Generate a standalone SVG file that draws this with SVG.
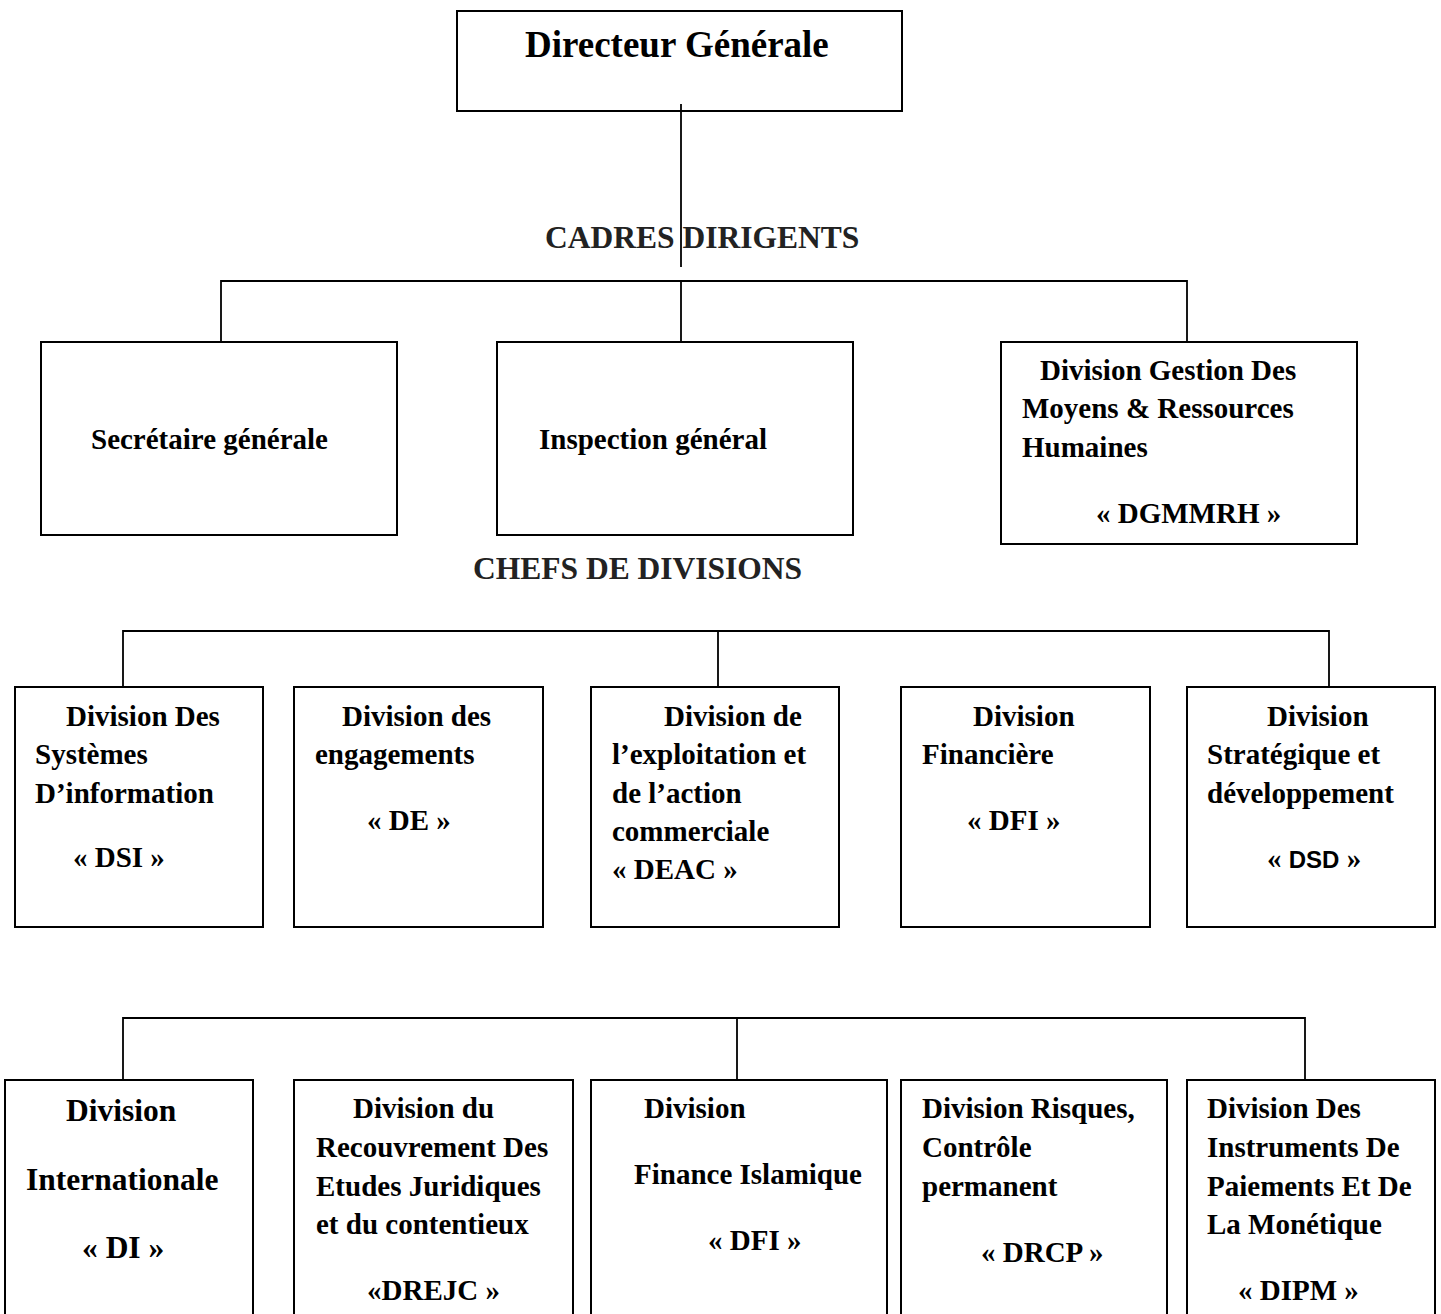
<svg xmlns="http://www.w3.org/2000/svg" width="1441" height="1314" viewBox="0 0 1441 1314">
<style>
.box{fill:#fff;stroke:#000;stroke-width:2}
.ln{fill:none;stroke:#000;stroke-width:1.8}
text{font-family:"Liberation Serif","Times New Roman",serif;font-weight:bold;fill:#000}
.t{font-size:29px}
.big{font-size:31.5px}
.hd{font-size:31.5px;fill:#222}
.ttl{font-size:37px}
.sans{font-family:"Liberation Sans",Arial,sans-serif;font-size:24px}
</style>
<rect width="1441" height="1314" fill="#fff"/>
<g id="dg">
<rect class="box" x="457" y="11" width="445" height="100"/>
<text class="ttl" x="525" y="57">Directeur Générale</text>
</g>
<g id="label-cadres"><text class="hd" x="545" y="248">CADRES DIRIGENTS</text></g>
<g id="label-chefs"><text class="hd" x="473" y="579">CHEFS DE DIVISIONS</text></g>
<g id="sg">
<rect class="box" x="41" y="342" width="356" height="193"/>
<text class="t" x="91" y="449">Secrétaire générale</text>
</g>
<g id="ig">
<rect class="box" x="497" y="342" width="356" height="193"/>
<text class="t" x="539" y="449">Inspection général</text>
</g>
<g id="dgmmrh">
<rect class="box" x="1001" y="342" width="356" height="202"/>
<text class="t" x="1040" y="380">Division Gestion Des</text>
<text class="t" x="1022" y="418">Moyens &amp; Ressources</text>
<text class="t" x="1022" y="457">Humaines</text>
<text class="t" x="1096" y="523">« DGMMRH »</text>
</g>
<g id="dsi">
<rect class="box" x="15" y="687" width="248" height="240"/>
<text class="t" x="66" y="726">Division Des</text>
<text class="t" x="35" y="764">Systèmes</text>
<text class="t" x="35" y="803">D’information</text>
<text class="t" x="73" y="867">« DSI »</text>
</g>
<g id="de">
<rect class="box" x="294" y="687" width="249" height="240"/>
<text class="t" x="342" y="726">Division des</text>
<text class="t" x="315" y="764">engagements</text>
<text class="t" x="367" y="830">« DE »</text>
</g>
<g id="deac">
<rect class="box" x="591" y="687" width="248" height="240"/>
<text class="t" x="664" y="726">Division de</text>
<text class="t" x="612" y="764">l’exploitation et</text>
<text class="t" x="612" y="803">de l’action</text>
<text class="t" x="612" y="841">commerciale</text>
<text class="t" x="612" y="879">« DEAC »</text>
</g>
<g id="dfi">
<rect class="box" x="901" y="687" width="249" height="240"/>
<text class="t" x="973" y="726">Division</text>
<text class="t" x="922" y="764">Financière</text>
<text class="t" x="967" y="830">« DFI »</text>
</g>
<g id="dsd">
<rect class="box" x="1187" y="687" width="248" height="240"/>
<text class="t" x="1267" y="726">Division</text>
<text class="t" x="1207" y="764">Stratégique et</text>
<text class="t" x="1207" y="803">développement</text>
<text class="t" x="1267" y="868">« <tspan class="sans">DSD</tspan> »</text>
</g>
<g id="di">
<rect class="box" x="5" y="1080" width="248" height="250"/>
<text class="big" x="66" y="1121">Division</text>
<text class="big" x="26" y="1190">Internationale</text>
<text class="big" x="82" y="1258">« DI »</text>
</g>
<g id="drejc">
<rect class="box" x="294" y="1080" width="279" height="250"/>
<text class="t" x="353" y="1118">Division du</text>
<text class="t" x="316" y="1157">Recouvrement Des</text>
<text class="t" x="316" y="1196">Etudes Juridiques</text>
<text class="t" x="316" y="1234">et du contentieux</text>
<text class="t" x="367" y="1300">«DREJC »</text>
</g>
<g id="dfi2">
<rect class="box" x="591" y="1080" width="296" height="250"/>
<text class="t" x="644" y="1118">Division</text>
<text class="t" x="634" y="1184">Finance Islamique</text>
<text class="t" x="708" y="1250">« DFI »</text>
</g>
<g id="drcp">
<rect class="box" x="901" y="1080" width="266" height="250"/>
<text class="t" x="922" y="1118">Division Risques,</text>
<text class="t" x="922" y="1157">Contrôle</text>
<text class="t" x="922" y="1196">permanent</text>
<text class="t" x="981" y="1262">« DRCP »</text>
</g>
<g id="dipm">
<rect class="box" x="1187" y="1080" width="248" height="250"/>
<text class="t" x="1207" y="1118">Division Des</text>
<text class="t" x="1207" y="1157">Instruments De</text>
<text class="t" x="1207" y="1196">Paiements Et De</text>
<text class="t" x="1207" y="1234">La Monétique</text>
<text class="t" x="1238" y="1300">« DIPM »</text>
</g>
<g id="connectors">
<path class="ln" d="M681 104V267"/>
<path class="ln" d="M221 342V281H1187V342M681 281V342"/>
<path class="ln" d="M123 687V631H1329V687M718 631V687"/>
<path class="ln" d="M123 1080V1018H1305V1080M737 1018V1080"/>
</g>
</svg>
